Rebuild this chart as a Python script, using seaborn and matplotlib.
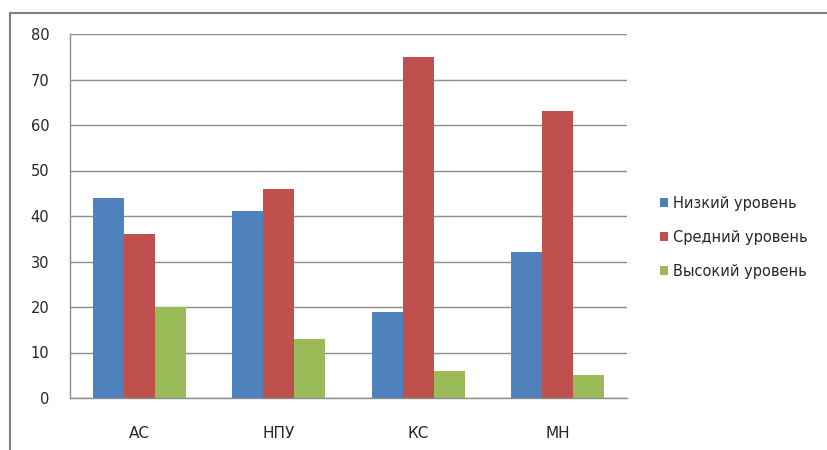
import matplotlib.pyplot as plt
import seaborn as sns
import pandas as pd
from matplotlib.patches import Rectangle

categories = ['АС', 'НПУ', 'КС', 'МН']
levels = ['Низкий уровень', 'Средний уровень', 'Высокий уровень']
low = [44, 41, 19, 32]
mid = [36, 46, 75, 63]
high = [20, 13, 6, 5]
colors = ['#4F81BD', '#C0504D', '#9BBB59']

rows = []
for vals, lvl in zip([low, mid, high], levels):
    for cat, v in zip(categories, vals):
        rows.append({'cat': cat, 'level': lvl, 'value': v})
df = pd.DataFrame(rows)

sns.set_style('white')
plt.rcParams['font.family'] = ['DejaVu Sans']

fig = plt.figure(figsize=(8.28, 4.5), dpi=100)
ax = fig.add_axes([70 / 828, 1 - 398 / 450, (627 - 70) / 828, (398 - 34) / 450])

sns.barplot(data=df, x='cat', y='value', hue='level', palette=colors,
            width=0.668, gap=0, saturation=1, linewidth=0, ax=ax, legend=True)

ax.set_ylim(0, 80)
ax.set_xlim(-0.5, 3.5)
ax.set_yticks(range(0, 81, 10))
ax.yaxis.grid(True, color='#8c8c8c', linewidth=1)
ax.set_axisbelow(True)
ax.set_xlabel('')
ax.set_ylabel('')
for s in ['top', 'right']:
    ax.spines[s].set_visible(False)
for s in ['left', 'bottom']:
    ax.spines[s].set_color('#8c8c8c')
    ax.spines[s].set_linewidth(1)

ax.tick_params(axis='y', length=7, color='#8c8c8c', labelsize=10.5, pad=8)
ax.tick_params(axis='x', length=0, labelsize=11, pad=20)
# category boundary ticks
ax.set_xticks([-0.5, 0.5, 1.5, 2.5, 3.5], minor=True)
ax.tick_params(axis='x', which='minor', length=6, color='#8c8c8c', direction='out')

handles, labels = ax.get_legend_handles_labels()
ax.legend(handles, labels, loc='center left', bbox_to_anchor=(1.035, 0.442),
          frameon=False, fontsize=10.5, handlelength=0.6, handleheight=0.6,
          handletextpad=0.35, labelspacing=1.3)

fig.patches.append(Rectangle((10 / 828, -0.1), 1.1, 1 - 13 / 450 + 0.1,
                             transform=fig.transFigure, fill=False,
                             edgecolor='#7f7f7f', linewidth=1.5))

fig.savefig('out.png', dpi=100)
